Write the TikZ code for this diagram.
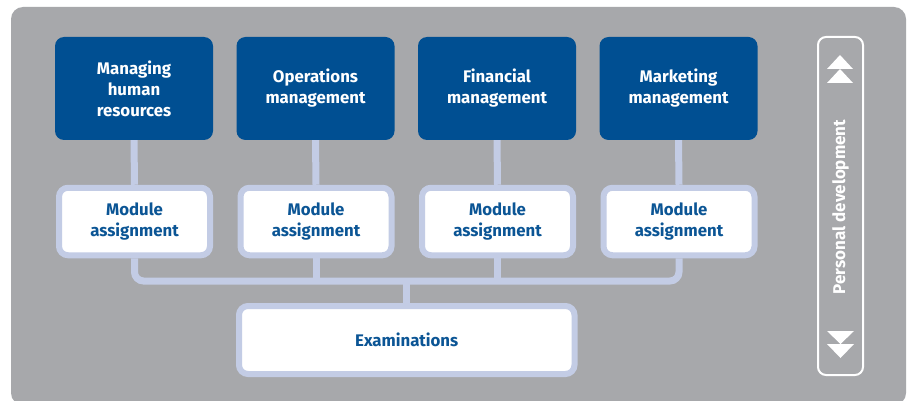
\documentclass[tikz,border=0pt]{standalone}
\usepackage{fontspec}
\setmainfont{Fira Sans}
\begin{document}
\begin{tikzpicture}[x=1pt,y=-1pt,
  blueboxstyle/.style={fill=boxblue, rounded corners=9pt, minimum width=158pt, minimum height=103pt,
     text=white, font=\fontsize{16.8}{21}\selectfont\bfseries, align=center, inner sep=0pt},
  modbox/.style={fill=white, draw=lav, line width=6pt, rounded corners=9pt, minimum width=151pt, minimum height=67.5pt,
     text=txtblue, font=\fontsize{16.8}{21}\selectfont\bfseries, align=center, inner sep=0pt},
  conn/.style={draw=lav, line width=7pt}
]
\definecolor{bg}{HTML}{A7A8AB}
\definecolor{boxblue}{HTML}{004F92}
\definecolor{lav}{HTML}{C3CCE5}
\definecolor{txtblue}{HTML}{0B5595}
\useasboundingbox (0,0) rectangle (910,401);
\fill[white] (0,0) rectangle (910,401);
\fill[bg, rounded corners=12pt] (11,7) rectangle (906,405);

\node[blueboxstyle] (b1) at (134,88.5) {Managing\\human\\resources};
\node[blueboxstyle] (b2) at (315.5,88.5) {Operations\\management};
\node[blueboxstyle] (b3) at (497,88.5) {Financial\\management};
\node[blueboxstyle] (b4) at (678.5,88.5) {Marketing\\management};

\node[modbox] (m1) at (134.5,221.5) {Module\\assignment};
\node[modbox] (m2) at (316,221.5) {Module\\assignment};
\node[modbox] (m3) at (497.5,221.5) {Module\\assignment};
\node[modbox] (m4) at (679,221.5) {Module\\assignment};

\node[modbox, minimum width=335.5pt, minimum height=68pt] (ex) at (406.75,340) {Examinations};

\coordinate (bus) at (406.75,281);
\foreach \i in {1,2,3,4} \draw[conn] (b\i.south) -- (m\i.north);
\draw[conn, rounded corners=9pt] (m1.south) |- (bus) -| (m4.south);
\draw[conn] (m2.south) -- (m2.south |- bus);
\draw[conn] (m3.south) -- (m3.south |- bus);
\draw[conn] (bus) -- (ex.north);

\node[draw=white, line width=2pt, rounded corners=8pt, minimum width=45pt, minimum height=338pt, inner sep=0pt] (pd) at (840.5,206) {};
\node[rotate=90, text=white, font=\fontsize{17}{20}\selectfont\bfseries] (pdlabel) at (840.5,207) {Personal development};
\fill[white] (840,55) -- (853,69) -- (827,69) -- cycle;
\fill[white] (840,69) -- (853,83) -- (827,83) -- cycle;
\fill[white] (827,331) -- (854,331) -- (840.5,344) -- cycle;
\fill[white] (827,344) -- (854,344) -- (840.5,358) -- cycle;
\end{tikzpicture}
\end{document}
